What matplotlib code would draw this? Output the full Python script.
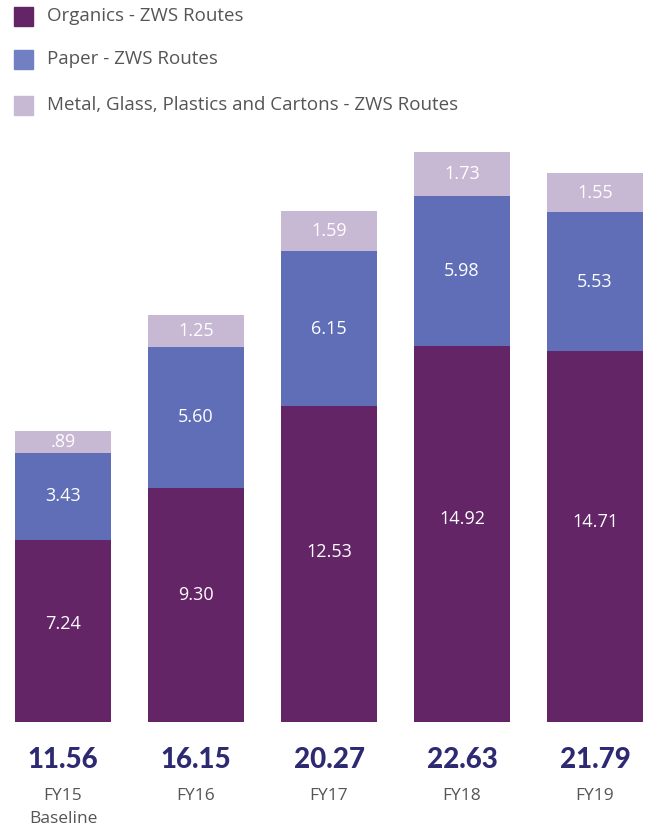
import matplotlib.pyplot as plt
from matplotlib.patches import Rectangle

years = ['FY15\nBaseline', 'FY16', 'FY17', 'FY18', 'FY19']
organics = [7.24, 9.30, 12.53, 14.92, 14.71]
paper = [3.43, 5.60, 6.15, 5.98, 5.53]
mgpc = [0.89, 1.25, 1.59, 1.73, 1.55]
totals = ['11.56', '16.15', '20.27', '22.63', '21.79']
organics_lbl = ['7.24', '9.30', '12.53', '14.92', '14.71']
paper_lbl = ['3.43', '5.60', '6.15', '5.98', '5.53']
mgpc_lbl = ['.89', '1.25', '1.59', '1.73', '1.55']
series_names = ['Organics - ZWS Routes', 'Paper - ZWS Routes',
                'Metal, Glass, Plastics and Cartons - ZWS Routes']

c_org = '#632566'
c_pap = '#5F6EB7'
c_mgp = '#C7B8D4'
c_tot = '#2E2A72'
c_txt = '#555555'

plt.rcParams['font.family'] = ['Open Sans', 'DejaVu Sans']

W, H = 649, 832
fig = plt.figure(figsize=(W / 100, H / 100), dpi=100)

# axes in pixel terms: bars bottom at y=722, x centres 63 + 133*i
ax = fig.add_axes([0, (H - 722) / H, 1, 582 / H])
ax.set_xlim(-63 / 133, (W - 63) / 133)
ax.set_ylim(0, 582 / 25.19)
ax.axis('off')

x = list(range(len(years)))
bw = 96 / 133
ax.bar(x, organics, width=bw, color=c_org)
ax.bar(x, paper, width=bw, bottom=organics, color=c_pap)
bot2 = [a + b for a, b in zip(organics, paper)]
ax.bar(x, mgpc, width=bw, bottom=bot2, color=c_mgp)

for i in x:
    ax.text(i, organics[i] * 0.54, organics_lbl[i], ha='center', va='center',
            color='white', fontsize=13)
    ax.text(i, organics[i] + paper[i] / 2, paper_lbl[i], ha='center', va='center',
            color='white', fontsize=13)
    ax.text(i, bot2[i] + mgpc[i] / 2, mgpc_lbl[i], ha='center', va='center',
            color='white', fontsize=13)

# totals and year labels under the bars
for i in x:
    xf = (63 + 133 * i) / W
    fig.text(xf, 1 - 760 / H, totals[i], ha='center', va='center',
             color=c_tot, fontsize=20, fontweight='black', family='Lato')
    fig.text(xf, 1 - 788 / H, years[i], ha='center', va='top',
             color=c_txt, fontsize=12.5, linespacing=1.6)

# legend
for k, (name, col) in enumerate(zip(series_names, [c_org, '#7080C2', c_mgp])):
    yc = [16, 59, 105][k]
    fig.patches.append(Rectangle((14 / W, 1 - (yc + 9.5) / H), 19 / W, 19 / H,
                                 transform=fig.transFigure, color=col))
    fig.text(47 / W, 1 - yc / H, name, ha='left', va='center',
             color=c_txt, fontsize=13.5)

fig.savefig('out.png', dpi=100)
